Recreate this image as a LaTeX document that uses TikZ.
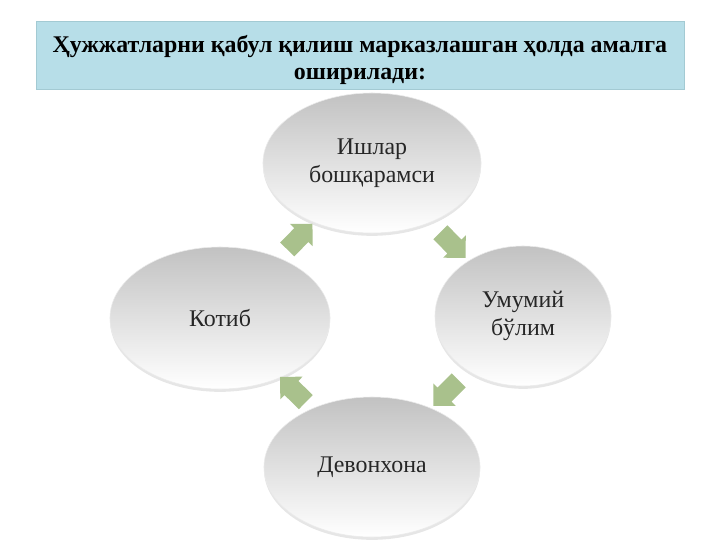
\documentclass[tikz,border=0pt]{standalone}
\usepackage{fontspec}
\setmainfont{Liberation Serif}
\usetikzlibrary{shapes.geometric,shapes.arrows,shadows}

\definecolor{titleblue}{HTML}{B7DEE8}
\definecolor{titleedge}{HTML}{A3CAD3}
\definecolor{arrowgreen}{HTML}{A9C18C}

\tikzset{
  titlebox/.style={rectangle, fill=titleblue, draw=titleedge, minimum width=16.2cm, minimum height=1.7cm, inner sep=0pt},
  titletext/.style={align=center, inner sep=0pt, font=\bfseries\fontsize{17}{19.5}\selectfont},
  stage/.style={ellipse, inner sep=0pt, align=center, top color=black!24, bottom color=white, draw=black!8, text=black!85, drop shadow={shadow xshift=0pt, shadow yshift=-2pt, opacity=0.2}, font=\fontsize{17}{20}\selectfont},
  cyclearrow/.style={single arrow, single arrow head extend=0.15cm, minimum height=0.9cm, inner xsep=0pt, inner ysep=0.24cm, fill=arrowgreen, draw=none, sloped, allow upside down}
}

\begin{document}
\begin{tikzpicture}[x=0.025cm, y=-0.025cm]
  \useasboundingbox (0,0) rectangle (720,540);

  %%% title
  \node[titlebox] (title) at (360,55) {};
  \node[titletext] (titletext) at ([yshift=-3.5pt]title.center) {Ҳужжатларни қабул қилиш марказлашган ҳолда амалга\\оширилади:};

  %%% stages
  \node[stage, minimum width=5.45cm, minimum height=3.5cm] (ishlar) at (372,163) {Ишлар\\бошқарамси};
  \node[stage, minimum width=4.4cm, minimum height=3.5cm] (umumiy) at (523,316) {Умумий\\бўлим};
  \node[stage, minimum width=5.4cm, minimum height=3.5cm] (devon) at (372,467) {Девонхона};
  \node[stage, minimum width=5.5cm, minimum height=3.55cm] (kotib) at (220,318) {Котиб};

  %%% arrows
  \path (kotib) -- node[cyclearrow] (a1) {} (ishlar);
  \path (ishlar) -- node[cyclearrow] (a2) {} (umumiy);
  \path (umumiy) -- node[cyclearrow] (a3) {} (devon);
  \path (devon) -- node[cyclearrow] (a4) {} (kotib);
\end{tikzpicture}
\end{document}
